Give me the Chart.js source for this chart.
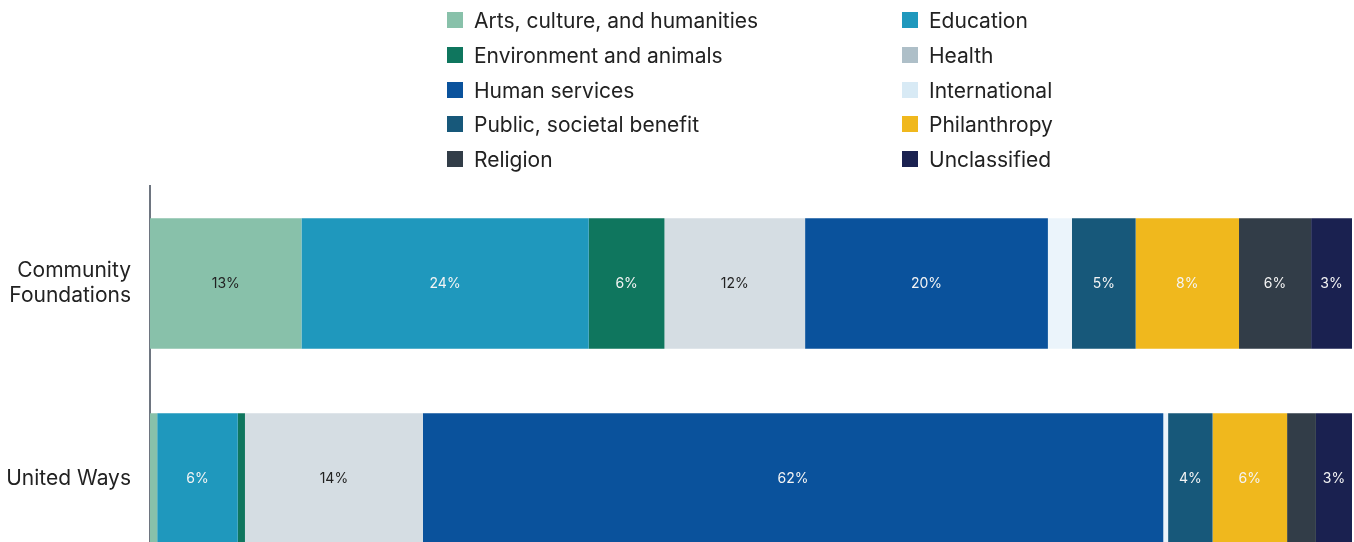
<!DOCTYPE html>
<html>
<head>
<meta charset="utf-8">
<script src="https://cdn.jsdelivr.net/npm/chart.js@4/dist/chart.umd.min.js"></script>
<style>
  html, body { margin: 0; padding: 0; background: #fff; overflow: hidden; }
  body { width: 1354px; height: 542px; position: relative; font-family: Inter, "Noto Sans", sans-serif; }
  /* plot is taller than the frame: the lower bar runs off the bottom edge */
  #wrap { position: absolute; left: 0; top: 0; width: 1354px; height: 580px; }
  #legend { position: absolute; left: 0; top: 0; width: 1354px; height: 180px; z-index: 2; }
  .lg-item { position: absolute; height: 24px; display: flex; align-items: center; font-size: 21px; color: #222; white-space: nowrap; }
  .lg-box { width: 16px; height: 16px; margin-right: 11px; flex: none; }
</style>
</head>
<body>
<div id="wrap"><canvas id="chart"></canvas></div>
<div id="legend"></div>
<script>
// --- data (share of grant dollars, %) ---
const categories = [['Community', 'Foundations'], 'United Ways'];
const seriesNames = [
  'Arts, culture, and humanities', 'Education', 'Environment and animals', 'Health',
  'Human services', 'International', 'Public, societal benefit', 'Philanthropy',
  'Religion', 'Unclassified'
];
const communityFoundations = [12.6, 23.9, 6.3, 11.7, 20.2, 2.0, 5.3, 8.6, 6.0, 3.4];
const unitedWays           = [0.6, 6.7, 0.6, 14.8, 61.6, 0.4, 3.7, 6.2, 2.4, 3.0];

// printed labels as they appear on the segments ('' = none shown)
const communityLabels = ['13%', '24%', '6%', '12%', '20%', '', '5%', '8%', '6%', '3%'];
const unitedWaysLabels = ['', '6%', '', '14%', '62%', '', '4%', '6%', '', '3%'];

// colours
const barColors    = ['#88c1aa', '#1f98bd', '#0f765e', '#d5dde3', '#0a529c', '#ebf4fb', '#17587a', '#f0b81d', '#323d48', '#1a2150'];
const legendColors = ['#88c1aa', '#1f98bd', '#0f765e', '#aebfc8', '#0a529c', '#d8eaf5', '#17587a', '#f0b81d', '#323d48', '#1a2150'];
const darkText = [true, false, false, true, false, true, false, false, false, false];

// --- legend (two columns) ---
const legendEl = document.getElementById('legend');
const colX = [447, 902];
const rowY = [20, 55, 90, 124, 159];
seriesNames.forEach((name, i) => {
  const item = document.createElement('div');
  item.className = 'lg-item';
  item.style.left = colX[i % 2] + 'px';
  item.style.top = (rowY[Math.floor(i / 2)] - 12) + 'px';
  item.innerHTML = `<span class="lg-box" style="background:${legendColors[i]}"></span><span>${name}</span>`;
  legendEl.appendChild(item);
});

// --- value labels inside segments ---
const rowLabels = [communityLabels, unitedWaysLabels];
const segmentLabels = {
  id: 'segmentLabels',
  afterDatasetsDraw(chart) {
    const ctx = chart.ctx;
    ctx.save();
    ctx.font = '14px Inter, "Noto Sans", sans-serif';
    ctx.textAlign = 'center';
    ctx.textBaseline = 'middle';
    chart.data.datasets.forEach((ds, di) => {
      const meta = chart.getDatasetMeta(di);
      meta.data.forEach((el, idx) => {
        const txt = rowLabels[idx][di];
        if (!txt) return;
        const c = el.getCenterPoint();
        ctx.fillStyle = darkText[di] ? '#222222' : '#f4f4f4';
        ctx.fillText(txt, c.x, c.y);
      });
    });
    ctx.restore();
  }
};

const ctx = document.getElementById('chart').getContext('2d');
new Chart(ctx, {
  type: 'bar',
  data: {
    labels: categories,
    datasets: seriesNames.map((name, i) => ({
      label: name,
      data: [communityFoundations[i], unitedWays[i]],
      backgroundColor: barColors[i],
      borderWidth: 0,
      barPercentage: 0.67,
      categoryPercentage: 1
    }))
  },
  options: {
    indexAxis: 'y',
    responsive: true,
    maintainAspectRatio: false,
    animation: false,
    layout: { padding: { top: 186, bottom: 4, right: 2, left: 0 } },
    plugins: {
      legend: { display: false },
      tooltip: { enabled: false }
    },
    scales: {
      x: {
        stacked: true,
        min: 0,
        max: 100,
        display: false
      },
      y: {
        stacked: true,
        grid: { display: false, drawTicks: false },
        border: { display: true, color: '#6e7580', width: 2 },
        ticks: {
          color: '#222',
          padding: 19,
          font: { family: 'Inter, "Noto Sans", sans-serif', size: 21, lineHeight: 1.2 }
        },
        afterFit(scale) {
          scale.width = 150;
          // don't let the tick labels push the plot area in
          scale.paddingTop = 0;
          scale.paddingBottom = 0;
        }
      }
    }
  },
  plugins: [segmentLabels]
});
</script>
</body>
</html>
